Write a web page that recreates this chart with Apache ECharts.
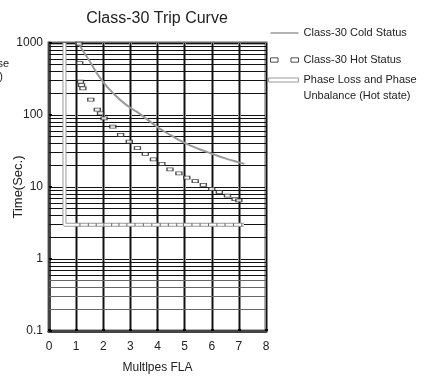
<!DOCTYPE html>
<html>
<head>
<meta charset="utf-8">
<script src="https://cdn.jsdelivr.net/npm/echarts@6/dist/echarts.min.js"></script>
<style>
  html, body { margin: 0; padding: 0; background: #fff; }
  #chart { width: 428px; height: 376px; }
</style>
</head>
<body>
<div id="chart"></div>
<script>
// cold status curve
const coldX = [1.07, 1.5, 1.93, 2.42, 2.92, 3.36, 4.0, 4.5, 5.0, 5.5, 6.0, 6.5, 7.0, 7.2]
const coldY = [1000, 557, 310, 191, 132, 103, 68, 52, 41, 34, 29, 25, 22, 21]
// hot status markers
const hotX = [1.11, 1.13, 1.16, 1.2, 1.25, 1.54, 1.78, 1.9, 2.03, 2.35, 2.64, 2.96, 3.26, 3.55, 3.85, 4.16, 4.46, 4.79, 5.08, 5.39, 5.69, 6.0, 6.28, 6.58, 6.86, 7.0]
const hotY = [980, 527, 290, 260, 235, 163, 119, 105, 90, 69, 53, 42.6, 34.6, 28.8, 24.2, 20.9, 17.6, 15.5, 13.5, 12.1, 10.7, 9.4, 8.5, 7.6, 6.8, 6.5]
// phase loss / unbalance (vertical drop then flat at 3 s)
const phaseX = [0.57, 0.57, 1.14, 1.45, 1.74, 2.02, 2.31, 2.58, 2.87, 3.17, 3.48, 3.79, 4.1, 4.4, 4.71, 4.96, 5.27, 5.57, 5.88, 6.19, 6.49, 6.8, 7.11, 7.18]
const phaseY = [1000, 3, 3, 3, 3, 3, 3, 3, 3, 3, 3, 3, 3, 3, 3, 3, 3, 3, 3, 3, 3, 3, 3, 3]

const xTicks = [0, 1, 2, 3, 4, 5, 6, 7, 8]
const yTicks = [0.1, 1, 10, 100, 1000]
const minorSteps = [2, 3, 4, 5, 6, 7, 8, 9]

const COLD = 'Class-30 Cold Status'
const HOT = 'Class-30 Hot Status'
const PHASE = 'Phase Loss and Phase Unbalance (Hot state)'
const FONT = 'Liberation Sans'

const zip = (xs, ys) => xs.map((x, i) => [x, ys[i]])

// log grid lines between decades (2..9 of each decade)
let minorLines = []
yTicks.slice(0, -1).forEach(d => {
  minorSteps.forEach(s => {
    const item = { yAxis: +(d * s).toPrecision(3) }
    // lowest decade's lower lines look lighter in the scan
    if (d < 1 && s < 6) item.lineStyle = { color: '#666' }
    minorLines.push(item)
  })
})

const chart = echarts.init(document.getElementById('chart'))

const option = {
  animation: false,
  textStyle: { fontFamily: FONT },
  title: {
    text: 'Class-30 Trip Curve',
    left: 157,
    top: 11,
    padding: 0,
    textAlign: 'center',
    textStyle: { fontSize: 16, fontWeight: 'normal', color: '#222', fontFamily: FONT },
  },
  legend: [
    {
      orient: 'vertical',
      left: 270,
      top: 26,
      padding: 0,
      itemGap: 13,
      itemWidth: 28,
      itemHeight: 5,
      selectedMode: false,
      textStyle: { fontSize: 11, color: '#222', lineHeight: 14, fontFamily: FONT },
      data: [
        {
          name: COLD,
          icon: 'path://M0,0h28v1.5h-28z',
          itemStyle: { color: '#999', borderWidth: 0 },
        },
        {
          name: HOT,
          icon: 'path://M0,0h7v4h-7z M19,0h7v4h-7z',
          itemStyle: { color: '#fff', borderColor: '#222', borderWidth: 1 },
        },
      ],
    },
    {
      orient: 'vertical',
      left: 268,
      top: 56,
      padding: 0,
      itemWidth: 30,
      itemHeight: 5,
      selectedMode: false,
      // blank first line keeps the icon level with the first text line
      formatter: () => ' \nPhase Loss and Phase\nUnbalance (Hot state)',
      textStyle: { fontSize: 11, color: '#222', lineHeight: 16, fontFamily: FONT },
      data: [
        {
          name: PHASE,
          icon: 'path://M0,0h30v4h-30z',
          itemStyle: { color: '#fff', borderColor: '#999', borderWidth: 1 },
        },
      ],
    },
  ],
  graphic: [
    { type: 'text', x: 9, y: 64, style: { text: 'Phase', align: 'right', verticalAlign: 'middle', font: '11px "Liberation Sans"', fill: '#222' } },
    { type: 'text', x: 3, y: 77, style: { text: '(Hot state)', align: 'right', verticalAlign: 'middle', font: '11px "Liberation Sans"', fill: '#222' } },
  ],
  grid: {
    left: 49,
    right: 162,
    top: 43,
    bottom: 45,
    outerBoundsMode: 'none',
    containLabel: false,
    show: true,
    borderColor: '#666',
    borderWidth: 3,
  },
  xAxis: [
    {
      type: 'value',
      min: xTicks[0],
      max: xTicks[xTicks.length - 1],
      interval: 1,
      name: 'Multlpes FLA',
      nameLocation: 'middle',
      nameGap: 31,
      nameMoveOverlap: false,
      nameTextStyle: { fontSize: 12, color: '#222', fontFamily: FONT },
      axisLine: { show: true, lineStyle: { color: '#444', width: 3 } },
      axisTick: { show: true, inside: true, length: 2, lineStyle: { color: '#000', width: 3 } },
      axisLabel: { fontSize: 12, color: '#222', margin: 10, fontFamily: FONT },
      splitLine: { show: true, lineStyle: { color: '#8a8a8a', width: 3 } },
    },
    {
      type: 'value',
      min: xTicks[0],
      max: xTicks[xTicks.length - 1],
      interval: 1,
      position: 'bottom',
      axisLine: { show: false },
      axisTick: { show: false },
      axisLabel: { show: false },
      splitLine: { show: true, lineStyle: { color: '#111', width: 1 } },
    },
  ],
  yAxis: {
    type: 'log',
    logBase: 10,
    min: yTicks[0],
    max: yTicks[yTicks.length - 1],
    name: 'Time(Sec.)',
    nameLocation: 'middle',
    nameGap: 24,
    nameMoveOverlap: false,
    nameTextStyle: { fontSize: 13, color: '#222', fontFamily: FONT },
    axisLine: { show: true, lineStyle: { color: '#444', width: 3 } },
    axisTick: { show: true, inside: true, length: 3, lineStyle: { color: '#000', width: 2 } },
    axisLabel: {
      fontSize: 12,
      color: '#222',
      margin: 6,
      fontFamily: FONT,
      formatter: v => String(+(+v).toPrecision(3)),
    },
    splitLine: { show: true, lineStyle: { color: '#111', width: 1 } },
  },
  series: [
    {
      // carries only the minor log grid lines, kept under the curves
      name: 'gridlines',
      type: 'line',
      data: [],
      symbol: 'none',
      silent: true,
      markLine: {
        silent: true,
        symbol: ['none', 'none'],
        label: { show: false },
        lineStyle: { color: '#111', width: 1, type: 'solid' },
        data: minorLines,
      },
    },
    {
      name: COLD,
      type: 'line',
      smooth: true,
      symbol: 'none',
      data: zip(coldX, coldY),
      lineStyle: { color: '#9a9a9a', width: 2 },
      itemStyle: { color: '#9a9a9a' },
      zlevel: 1,
    },
    {
      name: PHASE,
      type: 'line',
      symbol: 'none',
      data: zip(phaseX, phaseY),
      lineStyle: { color: '#999', width: 4 },
      itemStyle: { color: '#999' },
      zlevel: 1,
      z: 2,
    },
    {
      name: 'phase-inner',
      type: 'line',
      data: zip(phaseX, phaseY),
      symbol: (val, params) => (params.dataIndex < 2 || params.dataIndex === phaseX.length - 1 ? 'none' : 'rect'),
      symbolSize: [1, 3],
      lineStyle: { color: '#fff', width: 2 },
      itemStyle: { color: '#666' },
      zlevel: 1,
      z: 3,
    },
    {
      name: HOT,
      type: 'scatter',
      symbol: 'rect',
      symbolSize: [6, 3],
      data: zip(hotX, hotY),
      itemStyle: { color: '#fff', borderColor: '#222', borderWidth: 1 },
      zlevel: 1,
      z: 4,
    },
  ],
}

chart.setOption(option)
</script>
</body>
</html>
